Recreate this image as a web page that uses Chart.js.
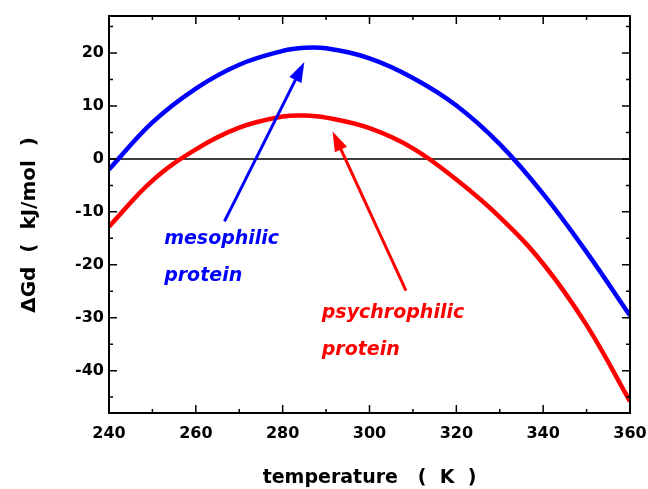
<!DOCTYPE html>
<html>
<head>
<meta charset="utf-8">
<script src="https://cdn.jsdelivr.net/npm/chart.js@4.4.1/dist/chart.umd.min.js"></script>
<style>
  html, body { margin: 0; padding: 0; background: #ffffff; }
  #wrap { width: 648px; height: 489px; }
</style>
</head>
<body>
<div id="wrap"><canvas id="c" width="648" height="489"></canvas></div>
<script>
// ---- data ----
const temperature = [240, 250, 260, 270, 280, 285, 290, 300, 310, 320, 330, 340, 350, 360];
const mesophilic  = [-2.0, 6.9, 13.3, 17.8, 20.4, 21.0, 20.9, 19.0, 15.3, 10.1, 2.8, -6.6, -17.6, -29.6];
const psychrophilic = [-12.8, -4.1, 1.8, 5.9, 8.0, 8.2, 7.8, 5.8, 2.0, -3.9, -11.0, -19.8, -31.4, -45.8];
const xTickValues = [240, 260, 280, 300, 320, 340, 360];
const yTickValues = [-40, -30, -20, -10, 0, 10, 20];

// annotation anchors (data units)
const mesoArrow = { tail: [266.6, -11.8], head: [285.0, 18.3] };
const psyArrow  = { tail: [308.4, -24.9], head: [291.5, 5.2] };
const mesoLabel = { at: [252.7, -16.1], lines: ['mesophilic', 'protein'] };
const psyLabel  = { at: [289.0, -30.0], lines: ['psychrophilic', 'protein'] };

const BLUE = '#0000ff', RED = '#ff0000';
const FONT = '"DejaVu Sans", "Liberation Sans", sans-serif';

function pts(xs, ys) { return xs.map((x, i) => ({ x: x, y: ys[i] })); }

const decor = {
  id: 'decor',
  beforeDatasetsDraw(chart) {
    const { ctx, scales: { x, y } } = chart;
    const ca = chart.chartArea;
    ctx.save();
    ctx.strokeStyle = '#000';
    ctx.lineWidth = 1.5;
    const y0 = y.getPixelForValue(0);
    ctx.beginPath(); ctx.moveTo(ca.left, y0); ctx.lineTo(ca.right, y0); ctx.stroke();
    ctx.restore();
  },
  afterDatasetsDraw(chart) {
    const { ctx, scales: { x, y } } = chart;
    const ca = chart.chartArea;
    const P = (p) => [x.getPixelForValue(p[0]), y.getPixelForValue(p[1])];
    function arrow(a, color) {
      const [tx, ty] = P(a.tail), [hx, hy] = P(a.head);
      const ang = Math.atan2(hy - ty, hx - tx);
      const L = 20, W = 6.7;
      const bx = hx - L * Math.cos(ang), by = hy - L * Math.sin(ang);
      ctx.save();
      ctx.strokeStyle = color; ctx.fillStyle = color; ctx.lineWidth = 3; ctx.lineCap = 'butt';
      ctx.beginPath(); ctx.moveTo(tx, ty); ctx.lineTo(bx + 2 * Math.cos(ang), by + 2 * Math.sin(ang)); ctx.stroke();
      ctx.beginPath();
      ctx.moveTo(hx, hy);
      ctx.lineTo(bx + W * Math.sin(ang), by - W * Math.cos(ang));
      ctx.lineTo(bx - W * Math.sin(ang), by + W * Math.cos(ang));
      ctx.closePath(); ctx.fill();
      ctx.restore();
    }
    function label(l, color) {
      const [lx, ly] = P(l.at);
      ctx.save();
      ctx.fillStyle = color;
      ctx.font = 'italic bold 19px ' + FONT;
      ctx.textAlign = 'left'; ctx.textBaseline = 'alphabetic';
      l.lines.forEach((t, i) => ctx.fillText(t, lx, ly + i * 37));
      ctx.restore();
    }
    arrow(mesoArrow, BLUE);
    arrow(psyArrow, RED);
    label(mesoLabel, BLUE);
    label(psyLabel, RED);

    // frame and inward ticks on all four sides
    ctx.save();
    ctx.strokeStyle = '#000';
    ctx.lineWidth = 1.5;
    for (let v = 240; v <= 360; v += 10) {
      const px = x.getPixelForValue(v);
      const len = (v % 20 === 0) ? 8 : 4;
      ctx.beginPath();
      ctx.moveTo(px, ca.bottom); ctx.lineTo(px, ca.bottom - len);
      ctx.moveTo(px, ca.top); ctx.lineTo(px, ca.top + len);
      ctx.stroke();
    }
    for (let v = -45; v <= 25; v += 5) {
      const py = y.getPixelForValue(v);
      const len = (v % 10 === 0) ? 8 : 4;
      ctx.beginPath();
      ctx.moveTo(ca.left, py); ctx.lineTo(ca.left + len, py);
      ctx.moveTo(ca.right, py); ctx.lineTo(ca.right - len, py);
      ctx.stroke();
    }
    ctx.lineWidth = 2;
    ctx.strokeRect(ca.left, ca.top, ca.right - ca.left, ca.bottom - ca.top);
    ctx.restore();
  }
};

new Chart(document.getElementById('c'), {
  type: 'line',
  data: {
    datasets: [
      { label: 'mesophilic protein', data: pts(temperature, mesophilic), borderColor: BLUE, borderWidth: 4.5, pointRadius: 0, tension: 0.4, fill: false },
      { label: 'psychrophilic protein', data: pts(temperature, psychrophilic), borderColor: RED, borderWidth: 4.5, pointRadius: 0, tension: 0.4, fill: false }
    ]
  },
  options: {
    responsive: false,
    devicePixelRatio: 1,
    animation: false,
    layout: { padding: { top: 16, right: 18, left: 0, bottom: 0 } },
    plugins: { legend: { display: false }, tooltip: { enabled: false } },
    scales: {
      x: {
        type: 'linear', min: 240, max: 360,
        afterBuildTicks(s) { s.ticks = xTickValues.map(v => ({ value: v })); },
        afterFit(s) { s.height = 76; s.paddingLeft = 0; s.paddingRight = 0; },
        ticks: { color: '#000', font: { family: FONT, size: 16, weight: 'bold' }, padding: 11, maxRotation: 0 },
        grid: { display: false, drawTicks: false },
        border: { display: false },
        title: { display: true, text: 'temperature   (  K  )', color: '#000', font: { family: FONT, size: 19, weight: 'bold' }, padding: { top: 0, bottom: 0 } }
      },
      y: {
        type: 'linear', min: -48, max: 27,
        afterBuildTicks(s) { s.ticks = yTickValues.map(v => ({ value: v })); },
        afterFit(s) { s.width = 109; s.paddingTop = 0; s.paddingBottom = 0; },
        ticks: { color: '#000', font: { family: FONT, size: 16, weight: 'bold' }, padding: 5 },
        grid: { display: false, drawTicks: false },
        border: { display: false },
        title: { display: true, text: 'ΔGd  (  kJ/mol  )   ', color: '#000', font: { family: FONT, size: 20, weight: 'bold' }, padding: { top: 18, bottom: 0 } }
      }
    }
  },
  plugins: [decor]
});
</script>
</body>
</html>
